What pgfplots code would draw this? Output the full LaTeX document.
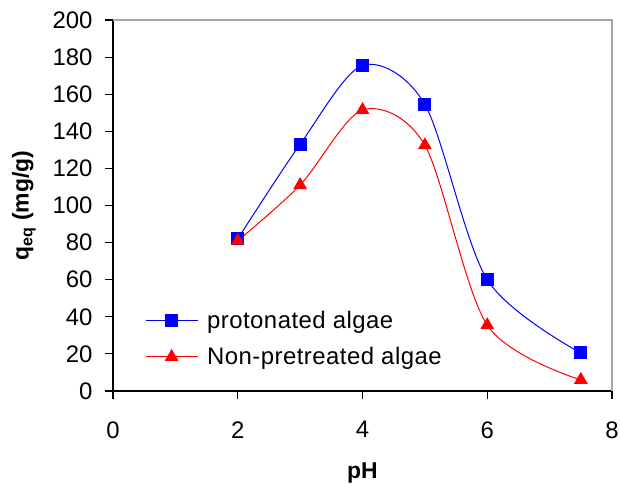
\documentclass[border=0pt]{standalone}
\usepackage{pgfplots}
\pgfplotsset{compat=1.18}
\usepackage{fontspec}
\setmainfont{Liberation Sans}

\begin{document}
\begin{tikzpicture}
\begin{axis}[
  at={(0,0)}, anchor=south west,
  scale only axis,
  width=499bp, height=371bp,
  xmin=0, xmax=8, ymin=0, ymax=200,
  xtick={0,2,4,6,8}, ytick={0,20,...,200},
  axis lines=left,
  axis line style={-, black, line width=1.1bp},
  tick style={black, line width=1.1bp},
  tick align=outside,
  major tick length=8bp,
  /pgf/number format/assume math mode=true,
  ticklabel style={font=\fontsize{24}{28}\selectfont},
  yticklabel style={xshift=-9bp},
  xticklabel style={yshift=-19bp},
  xlabel={\textbf{pH}},
  ylabel={\textbf{q\textsubscript{eq} (mg/g)}},
  label style={font=\fontsize{23}{27}\selectfont},
  xlabel style={yshift=-17bp},
  ylabel style={yshift=10bp},
  clip=false,
  legend style={draw=none, fill=none, at={(rel axis cs:0.064,0.066)}, anchor=south west,
    font=\fontsize{24}{28}\selectfont\addfontfeature{LetterSpace=2}, row sep=18bp, inner sep=0pt,
    nodes={inner xsep=4bp, inner ysep=0pt}},
  legend cell align=left,
  legend image code/.code={\draw[mark repeat=2,mark phase=2] plot coordinates {(0bp,0bp) (26bp,0bp) (52bp,0bp)};},
]
\draw[gray!70, line width=1.2bp] (rel axis cs:0,1) -- (rel axis cs:1,1) -- (rel axis cs:1,0);
\addplot[blue, line width=1bp, smooth, tension=0.5, mark=square*, mark size=6bp, mark options={solid, fill=blue}]
  coordinates {(2,82) (3,133) (4,175.5) (5,154.5) (6,60) (7.5,20.5)};
\addplot[red, line width=1bp, smooth, tension=0.5, mark=triangle*, mark size=7bp, mark options={solid, fill=red}]
  coordinates {(2,81) (3,111) (4,151.5) (5,132.5) (6,35.5) (7.5,6)};
\legend{\hspace{5bp}protonated algae, \hspace{5bp}Non-pretreated algae}
\end{axis}
\pgfresetboundingbox
\useasboundingbox (-113bp,-95bp) rectangle (507bp,391bp);
\end{tikzpicture}
\end{document}
